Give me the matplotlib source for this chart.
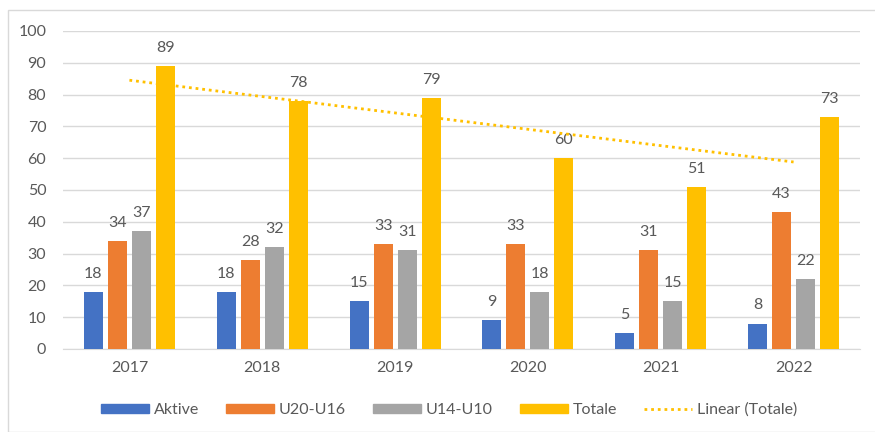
import numpy as np
import matplotlib.pyplot as plt
from matplotlib.patches import Rectangle
from matplotlib.lines import Line2D

years = ['2017', '2018', '2019', '2020', '2021', '2022']
aktive = [18, 18, 15, 9, 5, 8]
u20_u16 = [34, 28, 33, 33, 31, 43]
u14_u10 = [37, 32, 31, 18, 15, 22]
totale = [89, 78, 79, 60, 51, 73]

series = [('Aktive', aktive, '#4472C4'),
          ('U20-U16', u20_u16, '#ED7D31'),
          ('U14-U10', u14_u10, '#A5A5A5'),
          ('Totale', totale, '#FFC000')]

plt.rcParams['font.family'] = ['Lato', 'DejaVu Sans']
txt = '#595959'

fig = plt.figure(figsize=(8.75, 4.32), dpi=100)
ax = fig.add_axes([63 / 875, 1 - 349 / 432, 797 / 875, 318 / 432])

# chart border
fig.patches.append(Rectangle((8 / 875, 0.0), 1.2, 1 - 10 / 432, transform=fig.transFigure,
                             fill=False, edgecolor='#d9d9d9', linewidth=1))

x = np.arange(len(years))
bw = 0.143
step = 0.181
offsets = (np.arange(4) - 1.5) * step

for (name, vals, col), off in zip(series, offsets):
    bars = ax.bar(x + off, vals, width=bw, color=col, label=name, zorder=3)
    for b, v in zip(bars, vals):
        ax.annotate(str(v), (b.get_x() + b.get_width() / 2, v), xytext=(0, 8),
                    textcoords='offset points', ha='center', va='bottom',
                    fontsize=11.5, color=txt)

# linear trendline on Totale
k, m = np.polyfit(x, totale, 1)
ax.plot(x, k * x + m, linestyle=(0, (1, 1.4)), color='#FFC000', linewidth=2, zorder=4)

ax.set_xlim(-0.5, len(years) - 0.5)
ax.set_ylim(0, 100)
ax.set_yticks(range(0, 101, 10))
ax.set_xticks(x)
ax.set_xticklabels(years)
ax.tick_params(length=0, labelsize=11.5, labelcolor=txt)
ax.tick_params(axis='x', pad=9)
ax.tick_params(axis='y', pad=12)
ax.grid(axis='y', color='#d9d9d9', linewidth=1, zorder=0)
for s in ['top', 'right', 'left']:
    ax.spines[s].set_visible(False)
ax.spines['bottom'].set_color('#d9d9d9')

handles = [Rectangle((0, 0), 1, 1, color=c) for _, _, c in series]
handles.append(Line2D([], [], linestyle=(0, (1, 1.4)), color='#FFC000', linewidth=2))
labels = [n for n, _, _ in series] + ['Linear (Totale)']
fig.legend(handles, labels, loc='center', bbox_to_anchor=(0.513, 1 - 410 / 432), ncol=5,
           frameon=False, fontsize=11.5, labelcolor=txt, handlelength=3.0, handleheight=0.5,
           columnspacing=1.7, handletextpad=0.3)

fig.savefig('out.png', dpi=100)
